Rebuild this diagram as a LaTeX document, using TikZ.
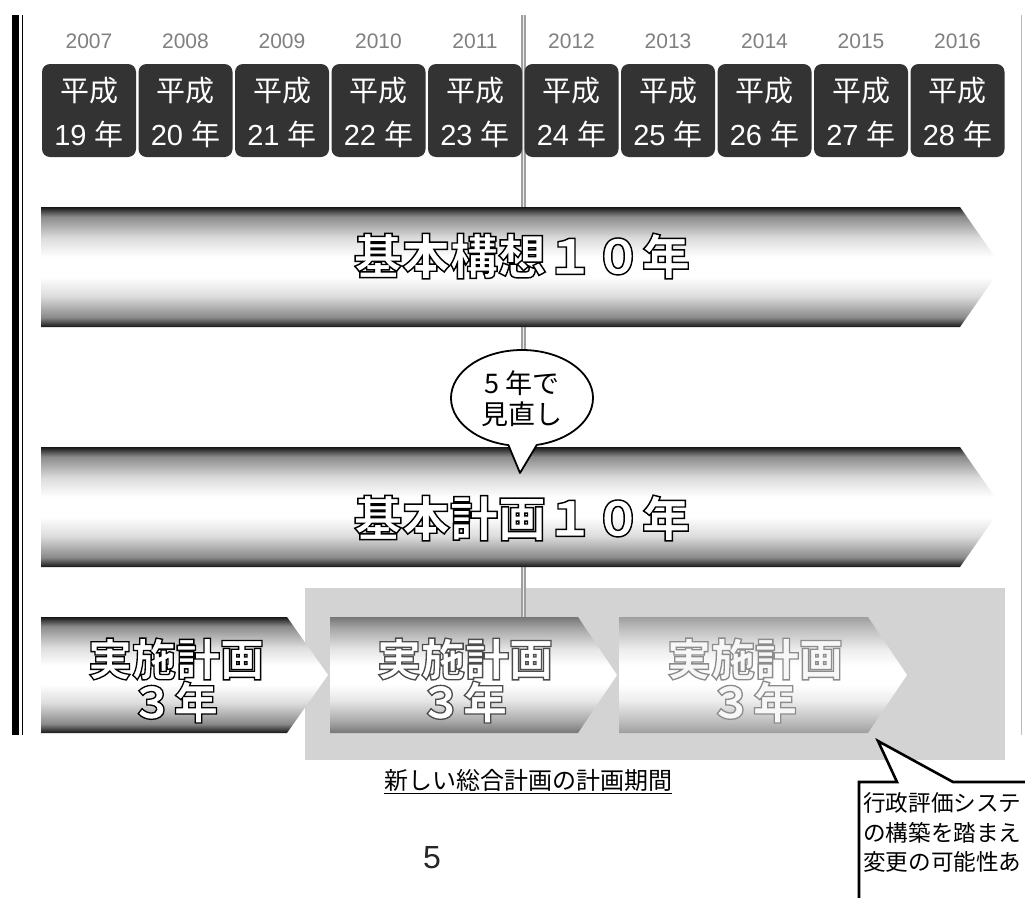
\documentclass[tikz,border=0pt]{standalone}
\usepackage{fontspec}
\setmainfont{Liberation Sans}
\newfontfamily\cjk{Noto Sans CJK JP}
\newfontfamily\cjkol{Noto Sans CJK JP}[FakeBold=3]
\usetikzlibrary{calc}

\definecolor{boxdark}{HTML}{333333}
\definecolor{yeargray}{HTML}{808080}
\definecolor{dotgray}{HTML}{D3D3D3}
\definecolor{bordergray}{HTML}{BBBBBB}
\definecolor{aA}{HTML}{161616}
\definecolor{aB}{HTML}{8A8A8A}
\definecolor{aC}{HTML}{DDDDDD}
\definecolor{bA}{HTML}{767676}
\definecolor{bB}{HTML}{A8A8A8}
\definecolor{bC}{HTML}{E6E6E6}
\definecolor{cA}{HTML}{9E9E9E}
\definecolor{cB}{HTML}{BEBEBE}
\definecolor{cC}{HTML}{EDEDED}

\pgfdeclareverticalshading{bardark}{100bp}{color(0bp)=(aA); color(25bp)=(aA); color(29bp)=(aB); color(38bp)=(aC); color(46bp)=(white); color(54bp)=(white); color(62bp)=(aC); color(71bp)=(aB); color(75bp)=(aA); color(100bp)=(aA)}
\pgfdeclareverticalshading{barmid}{100bp}{color(0bp)=(bA); color(25bp)=(bA); color(30bp)=(bB); color(39bp)=(bC); color(46bp)=(white); color(54bp)=(white); color(61bp)=(bC); color(70bp)=(bB); color(75bp)=(bA); color(100bp)=(bA)}
\pgfdeclareverticalshading{barlight}{100bp}{color(0bp)=(cA); color(25bp)=(cA); color(30bp)=(cB); color(39bp)=(cC); color(46bp)=(white); color(54bp)=(white); color(61bp)=(cC); color(70bp)=(cB); color(75bp)=(cA); color(100bp)=(cA)}

% white text with a coloured outline (fill colour, stroke colour as dvipdfmx rgb triples)
\newcommand\oltext[3]{\special{pdf:bcolor [#1] [#2]}#3\special{pdf:ecolor}}

\tikzset{
  yeartxt/.style={text=yeargray, font=\fontsize{21}{23}\selectfont, inner sep=0},
  yearbox/.style={fill=boxdark, rounded corners=8pt, minimum width=94, minimum height=93, inner sep=0},
  hstxt/.style={text=white, font=\fontsize{29}{31}\selectfont, inner sep=0},
  bigtxt/.style={font=\cjkol\bfseries\fontsize{48}{50}\selectfont, inner sep=0},
  midtxt/.style={font=\cjkol\bfseries\fontsize{44}{46}\selectfont, inner sep=0},
  bubtxt/.style={font=\cjk\fontsize{27}{29}\selectfont, inner sep=0},
  calltxt/.style={font=\cjk\fontsize{22.6}{25}\selectfont, inner sep=0, anchor=west},
  lbltxt/.style={font=\cjk\fontsize{24}{26}\selectfont, inner sep=0},
  pgtxt/.style={font=\fontsize{32}{34}\selectfont, text=black!85, inner sep=0},
}

\begin{document}
\begin{tikzpicture}[x=1pt,y=-1pt]
\useasboundingbox (0,0) rectangle (1025,897);
\fill[white] (0,0) rectangle (1025,897);

% shaded period region
\fill[dotgray] (305,588) rectangle (1005,760);

% frame lines
\fill[black] (12,15) rectangle (19,735);
\fill[black] (21.5,15) rectangle (23,735);
\fill[bordergray] (1020.5,15) rectangle (1022,735);

% centre divider
\coordinate (ctop) at (523.5,15);
\coordinate (cbot) at (523.5,620);
\draw[gray!75, line width=1.3pt, double=gray!15, double distance=1.6pt] (ctop) -- (cbot);

% years
\foreach \i/\yr/\h in {0/2007/19,1/2008/20,2/2009/21,3/2010/22,4/2011/23,5/2012/24,6/2013/25,7/2014/26,8/2015/27,9/2016/28}{
  \pgfmathsetmacro\cx{89+\i*96.5}
  \node[yeartxt] (yr\i) at (\cx,41) {\yr};
  \node[yearbox] (yb\i) at (\cx,110.5) {};
  \node[hstxt] (hs\i) at (\cx,91) {\cjk 平成};
  \node[hstxt] (hn\i) at (\cx,134) {\h\ {\cjk 年}};
}

% big bars
\shade[shading=bardark] (41,207) -- (960,207) -- (1002,267) -- (960,327) -- (41,327) -- cycle;
\node[bigtxt] (kousou) at (522,256) {\oltext{1 1 1}{0 0 0}{基本構想１０年}};

\shade[shading=bardark] (41,447) -- (960,447) -- (1002,507) -- (960,567) -- (41,567) -- cycle;
\node[bigtxt] (keikaku) at (522,518) {\oltext{1 1 1}{0 0 0}{基本計画１０年}};

% bubble
\draw[line width=1.8pt, fill=white, line join=round] (522,398) ++(101:71 and 48) arc[start angle=101, end angle=438, x radius=71, y radius=48] -- (520,473) -- cycle;
\node[bubtxt] (bub1) at (522,383) {5 年で};
\node[bubtxt] (bub2) at (522,414) {見直し};

% implementation plan arrows
\shade[shading=bardark] (41,617) -- (287,617) -- (328,675) -- (287,733) -- (41,733) -- cycle;
\shade[shading=barmid] (330,617) -- (578,617) -- (617,675) -- (578,733) -- (330,733) -- cycle;
\shade[shading=barlight] (619,617) -- (868,617) -- (907,675) -- (868,733) -- (619,733) -- cycle;
\node[midtxt] (jp1a) at (176,659) {\oltext{1 1 1}{0 0 0}{実施計画}};
\node[midtxt] (jp1b) at (174,702) {\oltext{1 1 1}{0 0 0}{３年}};
\node[midtxt] (jp2a) at (465,659) {\oltext{1 1 1}{0.3 0.3 0.3}{実施計画}};
\node[midtxt] (jp2b) at (463,702) {\oltext{1 1 1}{0.3 0.3 0.3}{３年}};
\node[midtxt] (jp3a) at (755,659) {\oltext{0.97 0.97 0.97}{0.55 0.55 0.55}{実施計画}};
\node[midtxt] (jp3b) at (753,702) {\oltext{0.97 0.97 0.97}{0.55 0.55 0.55}{３年}};

% period label
\node[lbltxt] (lbl) at (528,780) {新しい総合計画の計画期間};
\draw[line width=1pt] ($(lbl.base west)+(0,4)$) -- ($(lbl.base east)+(0,4)$);

% callout
\draw[line width=2.6pt, fill=white, line join=miter] (1040,782) -- (953,782) -- (878,741) -- (897,782) -- (859,782) -- (859,920) -- (1040,920) -- cycle;
\node[calltxt] (co1) at (863,803) {行政評価システ};
\node[calltxt] (co2) at (863,833) {の構築を踏まえ};
\node[calltxt] (co3) at (863,862) {変更の可能性あ};

% page number
\node[pgtxt] (pg) at (432,858) {5};
\end{tikzpicture}
\end{document}
